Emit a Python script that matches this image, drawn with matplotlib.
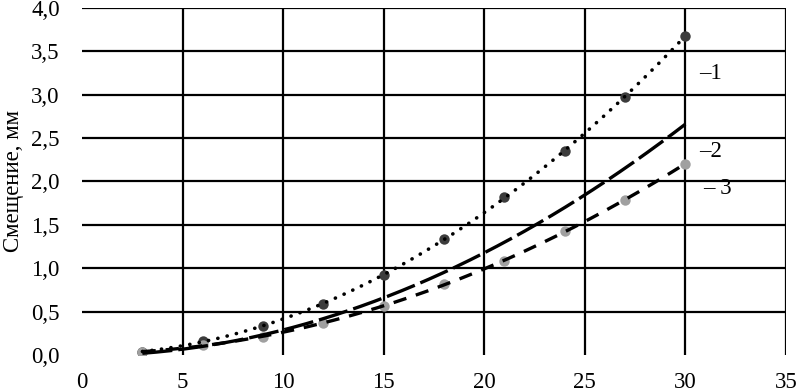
import numpy as np
import matplotlib
matplotlib.use("Agg")
import matplotlib.pyplot as plt

plt.rcParams['font.family'] = ['Liberation Serif', 'DejaVu Serif']

# Data
x_pts = [3, 6, 9, 12, 15, 18, 21, 24, 27, 30]
series1 = [0.04, 0.16, 0.33, 0.59, 0.92, 1.34, 1.82, 2.35, 2.97, 3.68]
series2 = [0.02, 0.10, 0.23, 0.42, 0.66, 0.95, 1.30, 1.70, 2.15, 2.66]  # line only
series3 = [0.04, 0.11, 0.21, 0.37, 0.56, 0.82, 1.08, 1.43, 1.79, 2.20]

x_ticks = [0, 5, 10, 15, 20, 25, 30, 35]
y_ticks = [0.0, 0.5, 1.0, 1.5, 2.0, 2.5, 3.0, 3.5, 4.0]
y_label = "Смещение, мм"
curve_labels = ["\u20131", "\u20132", "\u2013 3"]

fig = plt.figure(figsize=(7.97, 3.92), dpi=100)
ax = fig.add_axes([0.103, 0.0944, 0.883, 0.8856])
ax.set_xlim(0, 35)
ax.set_ylim(0, 4)

# grid lines (none at zero, like the reference)
for xv in x_ticks[1:]:
    ax.axvline(xv, color='black', lw=1.6, zorder=1)
for yv in y_ticks[1:]:
    ax.axhline(yv, color='black', lw=1.6, zorder=1)

for s in ax.spines.values():
    s.set_visible(False)

# polynomial trend lines
xs = np.linspace(3, 30, 200)
p1 = np.polyfit(x_pts, series1, 2)
p2 = np.polyfit(x_pts, series2, 2)
p3 = np.polyfit(x_pts, series3, 2)

ax.plot(x_pts, series1, 'o', color='#3c3c3c', ms=7.5, mec='none', zorder=2)
ax.plot(x_pts, series3, 'o', color='#a0a0a0', ms=7.5, mec='none', zorder=2)

ax.plot(xs, np.polyval(p1, xs), color='black', lw=2.6,
        linestyle=(0, (0.05, 2.6)), dash_capstyle='round', zorder=3)
ax.plot(xs, np.polyval(p2, xs), color='black', lw=2.4,
        linestyle=(0, (9, 1.8)), zorder=3)
ax.plot(xs, np.polyval(p3, xs), color='black', lw=2.4,
        linestyle=(0, (4, 3)), zorder=3)

ax.set_xticks(x_ticks)
ax.set_yticks(y_ticks)
ax.set_yticklabels([f"{v:.1f}".replace('.', ',') for v in y_ticks])
ax.tick_params(length=0, labelsize=16.5)
ax.tick_params(axis='y', pad=16)
ax.tick_params(axis='x', pad=12)
ax.set_ylabel(y_label, fontsize=16.5, labelpad=5)

# curve numbers to the right
ax.text(30.7, 3.24, curve_labels[0], fontsize=16.5, va='center', ha='left')
ax.text(30.7, 2.35, curve_labels[1], fontsize=16.5, va='center', ha='left')
ax.text(30.9, 1.92, curve_labels[2], fontsize=16.5, va='center', ha='left')

fig.savefig("out.png", dpi=100)
